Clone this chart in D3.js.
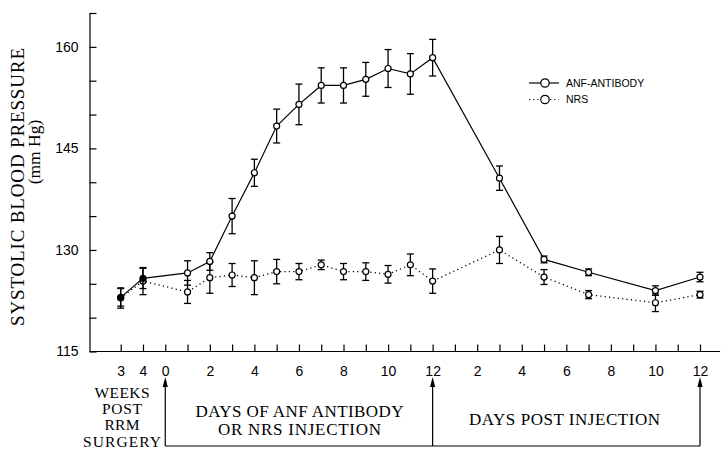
<!DOCTYPE html>
<html>
<head>
<meta charset="utf-8">
<script src="https://cdn.jsdelivr.net/npm/d3@7"></script>
<style>
  html, body { margin: 0; padding: 0; background: #fff; }
  svg { display: block; }
</style>
</head>
<body>
<svg id="chart" width="723" height="450"></svg>
<script>
// ---- data ----
const tickLabels = ["3","4","0","","2","","4","","6","","8","","10","","12","","2","","4","","6","","8","","10","","12"];
const pointIndex = [0,1,3,4,5,6,7,8,9,10,11,12,13,14,17,19,21,24,26];
const anfValues = [123.0,125.8,126.6,128.3,135.0,141.4,148.3,151.5,154.3,154.3,155.2,156.8,156.0,158.4,140.6,128.6,126.7,124.0,126.0];
const anfErrors = [1.3,1.5,1.8,1.3,2.6,2.0,2.5,3.0,2.6,2.6,2.5,2.8,3.0,2.7,1.8,0.5,0.5,0.7,0.7];
const nrsValues = [122.9,125.4,123.8,125.9,126.3,125.9,126.8,126.8,127.8,126.8,126.8,126.4,127.8,125.4,130.0,126.0,123.4,122.2,123.4];
const nrsErrors = [1.5,2.0,1.7,2.3,1.7,2.5,1.8,1.2,0.7,1.2,1.3,1.3,1.6,1.8,2.0,1.1,0.6,1.3,0.5];
const anfFilled = [true,true];          // first two ANF points drawn filled
const yTickValues = [115,120,125,130,135,140,145,150,155,160,165];
const yTickLabels = [115,130,145,160];
const arrowIndex = [2,14,26];

const svg = d3.select("#chart");
const x = d3.scaleLinear().domain([0, 26]).range([120.7, 700]);
const y = d3.scaleLinear().domain([115, 165]).range([351.5, 13]);
const axisX = 89.5;

// ---- y axis ----
const yAxis = d3.axisLeft(y)
  .tickValues(yTickValues)
  .tickSizeInner(-7).tickSizeOuter(0).tickPadding(11)
  .tickFormat(d => yTickLabels.includes(d) ? d : "");
const gy = svg.append("g").attr("transform", `translate(${axisX},0)`).call(yAxis);
gy.selectAll("text").attr("font-family", "Liberation Sans, Arial, sans-serif").attr("font-size", 14).attr("fill", "#000");
gy.selectAll("line,path").attr("stroke", "#000").attr("stroke-width", 1.2);

// ---- x axis ----
const xAxis = d3.axisBottom(x)
  .tickValues(d3.range(tickLabels.length))
  .tickSizeInner(-7).tickSizeOuter(0).tickPadding(14.5)
  .tickFormat((d, i) => tickLabels[i]);
const gx = svg.append("g").attr("transform", `translate(0,${y(115)})`).call(xAxis);
gx.select(".domain").remove();
gx.selectAll("text").attr("font-family", "Liberation Sans, Arial, sans-serif").attr("font-size", 14).attr("fill", "#000");
gx.selectAll("line").attr("stroke", "#000").attr("stroke-width", 1.2);
svg.append("line").attr("x1", axisX).attr("x2", x(26.9))
  .attr("y1", y(115)).attr("y2", y(115)).attr("stroke", "#000").attr("stroke-width", 1.2);

// ---- series ----
function drawSeries(values, errors, dash, filled) {
  const pts = pointIndex.map((p, i) => ({p, v: values[i], e: errors[i], f: filled ? !!filled[i] : false}));
  const line = d3.line().x(d => x(d.p)).y(d => y(d.v));
  svg.append("path").datum(pts).attr("d", line).attr("fill", "none")
    .attr("stroke", "#000").attr("stroke-width", dash ? 1.3 : 1.2)
    .attr("stroke-dasharray", dash || null);
  const g = svg.append("g");
  pts.forEach(d => {
    const cx = x(d.p);
    g.append("line").attr("x1", cx).attr("x2", cx).attr("y1", y(d.v - d.e)).attr("y2", y(d.v + d.e))
      .attr("stroke", "#000").attr("stroke-width", 1.3);
    [d.v - d.e, d.v + d.e].forEach(c => {
      g.append("line").attr("x1", cx - 3.5).attr("x2", cx + 3.5).attr("y1", y(c)).attr("y2", y(c))
        .attr("stroke", "#000").attr("stroke-width", 1.3);
    });
  });
  g.selectAll("circle").data(pts).join("circle")
    .attr("cx", d => x(d.p)).attr("cy", d => y(d.v)).attr("r", 3)
    .attr("fill", d => d.f ? "#000" : "#fff").attr("stroke", "#000").attr("stroke-width", 1.2);
}
drawSeries(nrsValues, nrsErrors, "1.2,3.2", null);
drawSeries(anfValues, anfErrors, null, anfFilled);

// ---- legend ----
const legend = [
  {label: "ANF-ANTIBODY", dash: null, yy: 83},
  {label: "NRS", dash: "1.2,3", yy: 99.5}
];
legend.forEach(l => {
  svg.append("line").attr("x1", 529).attr("x2", 559).attr("y1", l.yy).attr("y2", l.yy)
    .attr("stroke", "#000").attr("stroke-width", 1.2).attr("stroke-dasharray", l.dash);
  svg.append("circle").attr("cx", 545).attr("cy", l.yy).attr("r", 4.2)
    .attr("fill", "#fff").attr("stroke", "#000").attr("stroke-width", 1.2);
  svg.append("text").attr("x", 566).attr("y", l.yy + 3.8).text(l.label)
    .attr("font-family", "Liberation Sans, Arial, sans-serif").attr("font-size", 10.5).attr("fill", "#000");
});

// ---- y label ----
const serif = "Liberation Serif, Times New Roman, serif";
svg.append("text").attr("transform", "translate(24,187) rotate(-90)")
  .attr("text-anchor", "middle").attr("font-family", serif).attr("font-size", 19)
  .attr("textLength", 278).attr("lengthAdjust", "spacing")
  .text("SYSTOLIC BLOOD PRESSURE");
svg.append("text").attr("transform", "translate(40,152) rotate(-90)")
  .attr("text-anchor", "middle").attr("font-family", serif).attr("font-size", 17.5)
  .text("(mm Hg)");

// ---- bottom bracket ----
const bracketY = 446, tipY = 377;
svg.append("line").attr("x1", x(arrowIndex[0])).attr("x2", x(arrowIndex[2]))
  .attr("y1", bracketY).attr("y2", bracketY).attr("stroke", "#000").attr("stroke-width", 1.2);
arrowIndex.forEach(i => {
  const ax = x(i);
  svg.append("line").attr("x1", ax).attr("x2", ax).attr("y1", bracketY).attr("y2", tipY + 6)
    .attr("stroke", "#000").attr("stroke-width", 1.2);
  svg.append("path").attr("d", `M${ax},${tipY} L${ax - 2.6},${tipY + 10} L${ax + 2.6},${tipY + 10} Z`).attr("fill", "#000");
});

const leftLines = ["WEEKS", "POST", "RRM", "SURGERY"];
const leftWidths = [55, 40, 35, 78];
leftLines.forEach((t, i) => {
  svg.append("text").attr("x", 122).attr("y", 398 + i * 16.2).attr("text-anchor", "middle")
    .attr("font-family", serif).attr("font-size", 15.5)
    .attr("textLength", leftWidths[i]).attr("lengthAdjust", "spacing").text(t);
});
const midLines = [["DAYS OF ANF ANTIBODY", 417, 208], ["OR NRS INJECTION", 435, 163]];
midLines.forEach(([t, yy, w]) => {
  svg.append("text").attr("x", 299.5).attr("y", yy).attr("text-anchor", "middle")
    .attr("font-family", serif).attr("font-size", 17)
    .attr("textLength", w).attr("lengthAdjust", "spacing").text(t);
});
svg.append("text").attr("x", 564.5).attr("y", 425).attr("text-anchor", "middle")
  .attr("font-family", serif).attr("font-size", 17)
  .attr("textLength", 191).attr("lengthAdjust", "spacing").text("DAYS POST INJECTION");
</script>
</body>
</html>
